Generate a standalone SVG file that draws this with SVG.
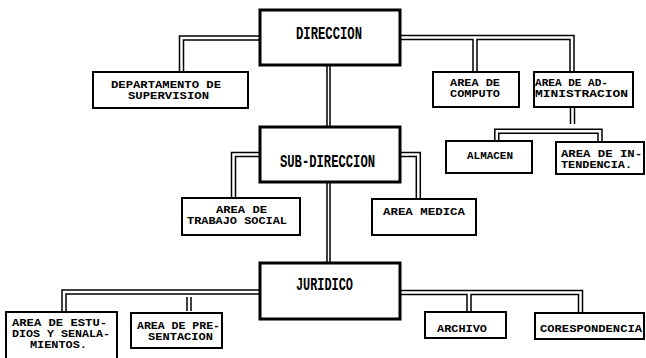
<svg xmlns="http://www.w3.org/2000/svg" width="646" height="358" viewBox="0 0 646 358">
<style>
.bg{fill:#fff}
.box{fill:#fff;stroke:#000;stroke-width:2}
.big{fill:#fff;stroke:#000;stroke-width:3}
.co{fill:none;stroke:#000;stroke-width:5.5;stroke-linejoin:miter}
.ci{fill:none;stroke:#fff;stroke-width:2.5;stroke-linejoin:miter}
.cn{fill:none;stroke:#000;stroke-width:4.5}
.cni{fill:none;stroke:#fff;stroke-width:1.5}
text{font-family:"Liberation Mono","DejaVu Sans Mono",monospace;font-weight:bold;fill:#000}
.s{font-size:10.5px}
.l{font-size:18px}
</style>
<rect class="bg" x="0" y="0" width="646" height="358"/>
<g id="connectors">
<path class="co" d="M260,38 H181.5 V72"/>
<path class="co" d="M400,37.5 H572 V72 M475,37.5 V72"/>
<path class="cn" d="M328.5,65 V127 M328.5,182 V263"/>
<path class="co" d="M260,154.5 H233.5 V198"/>
<path class="co" d="M400,154.5 H418.3 V199"/>
<path class="co" d="M572.5,108 V124"/>
<path class="co" d="M496.8,141 V131.3 H600 V142"/>
<path class="co" d="M260,292 H64 V312"/>
<path class="co" d="M189,297 V311"/>
<path class="co" d="M400,292.5 H580.5 V313 M469,292.5 V312"/>
<path class="ci" d="M260,38 H181.5 V72"/>
<path class="ci" d="M400,37.5 H572 V72 M475,37.5 V72"/>
<path class="cni" d="M328.5,65 V127 M328.5,182 V263"/>
<path class="ci" d="M260,154.5 H233.5 V198"/>
<path class="ci" d="M400,154.5 H418.3 V199"/>
<path class="ci" d="M572.5,108 V124"/>
<path class="ci" d="M496.8,141 V131.3 H600 V142"/>
<path class="ci" d="M260,292 H64 V312"/>
<path class="ci" d="M189,297 V311"/>
<path class="ci" d="M400,292.5 H580.5 V313 M469,292.5 V312"/>
</g>
<g id="direccion">
<rect class="big" x="260" y="10" width="140" height="55"/>
<text class="l" x="296" y="39" textLength="66" lengthAdjust="spacingAndGlyphs">DIRECCION</text>
</g>
<g id="departamento">
<rect class="box" x="93" y="72" width="155" height="36"/>
<text class="s" x="111" y="88" textLength="110" lengthAdjust="spacingAndGlyphs">DEPARTAMENTO DE</text>
<text class="s" x="128" y="99" textLength="81" lengthAdjust="spacingAndGlyphs">SUPERVISION</text>
</g>
<g id="computo">
<rect class="box" x="433" y="72" width="86" height="35"/>
<text class="s" x="450" y="86" textLength="50" lengthAdjust="spacingAndGlyphs">AREA DE</text>
<text class="s" x="450" y="97" textLength="50" lengthAdjust="spacingAndGlyphs">COMPUTO</text>
</g>
<g id="administracion">
<rect class="box" x="534" y="72" width="99" height="35"/>
<text class="s" x="535" y="86" textLength="73" lengthAdjust="spacingAndGlyphs">AREA DE AD-</text>
<text class="s" x="535" y="97" textLength="93" lengthAdjust="spacingAndGlyphs">MINISTRACION</text>
</g>
<g id="almacen">
<rect class="box" x="446" y="141" width="86" height="32"/>
<text class="s" x="467" y="159" textLength="46" lengthAdjust="spacingAndGlyphs">ALMACEN</text>
</g>
<g id="intendencia">
<rect class="box" x="556" y="142" width="88" height="32"/>
<text class="s" x="561" y="157" textLength="81" lengthAdjust="spacingAndGlyphs">AREA DE IN-</text>
<text class="s" x="561" y="168" textLength="71" lengthAdjust="spacingAndGlyphs">TENDENCIA.</text>
</g>
<g id="subdireccion">
<rect class="big" x="260" y="127" width="140" height="55"/>
<text class="l" x="280" y="167" textLength="95" lengthAdjust="spacingAndGlyphs">SUB-DIRECCION</text>
</g>
<g id="trabajo-social">
<rect class="box" x="182" y="198" width="118" height="37"/>
<text class="s" x="216" y="213" textLength="51" lengthAdjust="spacingAndGlyphs">AREA DE</text>
<text class="s" x="187" y="224" textLength="100" lengthAdjust="spacingAndGlyphs">TRABAJO SOCIAL</text>
</g>
<g id="medica">
<rect class="box" x="372" y="199" width="104" height="36"/>
<text class="s" x="383" y="215" textLength="82" lengthAdjust="spacingAndGlyphs">AREA MEDICA</text>
</g>
<g id="juridico">
<rect class="big" x="260" y="263" width="140" height="56"/>
<text class="l" x="296" y="290" textLength="57" lengthAdjust="spacingAndGlyphs">JURIDICO</text>
</g>
<g id="estudios">
<rect class="box" x="6" y="312" width="111" height="50"/>
<text class="s" x="12" y="326" textLength="95" lengthAdjust="spacingAndGlyphs">AREA DE ESTU-</text>
<text class="s" x="12" y="337" textLength="98" lengthAdjust="spacingAndGlyphs">DIOS Y SENALA-</text>
<text class="s" x="30" y="348" textLength="57" lengthAdjust="spacingAndGlyphs">MIENTOS.</text>
</g>
<g id="presentacion">
<rect class="box" x="131" y="313" width="91" height="35"/>
<text class="s" x="137" y="329" textLength="83" lengthAdjust="spacingAndGlyphs">AREA DE PRE-</text>
<text class="s" x="148" y="340" textLength="65" lengthAdjust="spacingAndGlyphs">SENTACION</text>
</g>
<g id="archivo">
<rect class="box" x="425" y="312" width="81" height="26"/>
<text class="s" x="437" y="332" textLength="50" lengthAdjust="spacingAndGlyphs">ARCHIVO</text>
</g>
<g id="corespondencia">
<rect class="box" x="535" y="313" width="109" height="26"/>
<text class="s" x="540" y="332" textLength="102" lengthAdjust="spacingAndGlyphs">CORESPONDENCIA</text>
</g>
</svg>
